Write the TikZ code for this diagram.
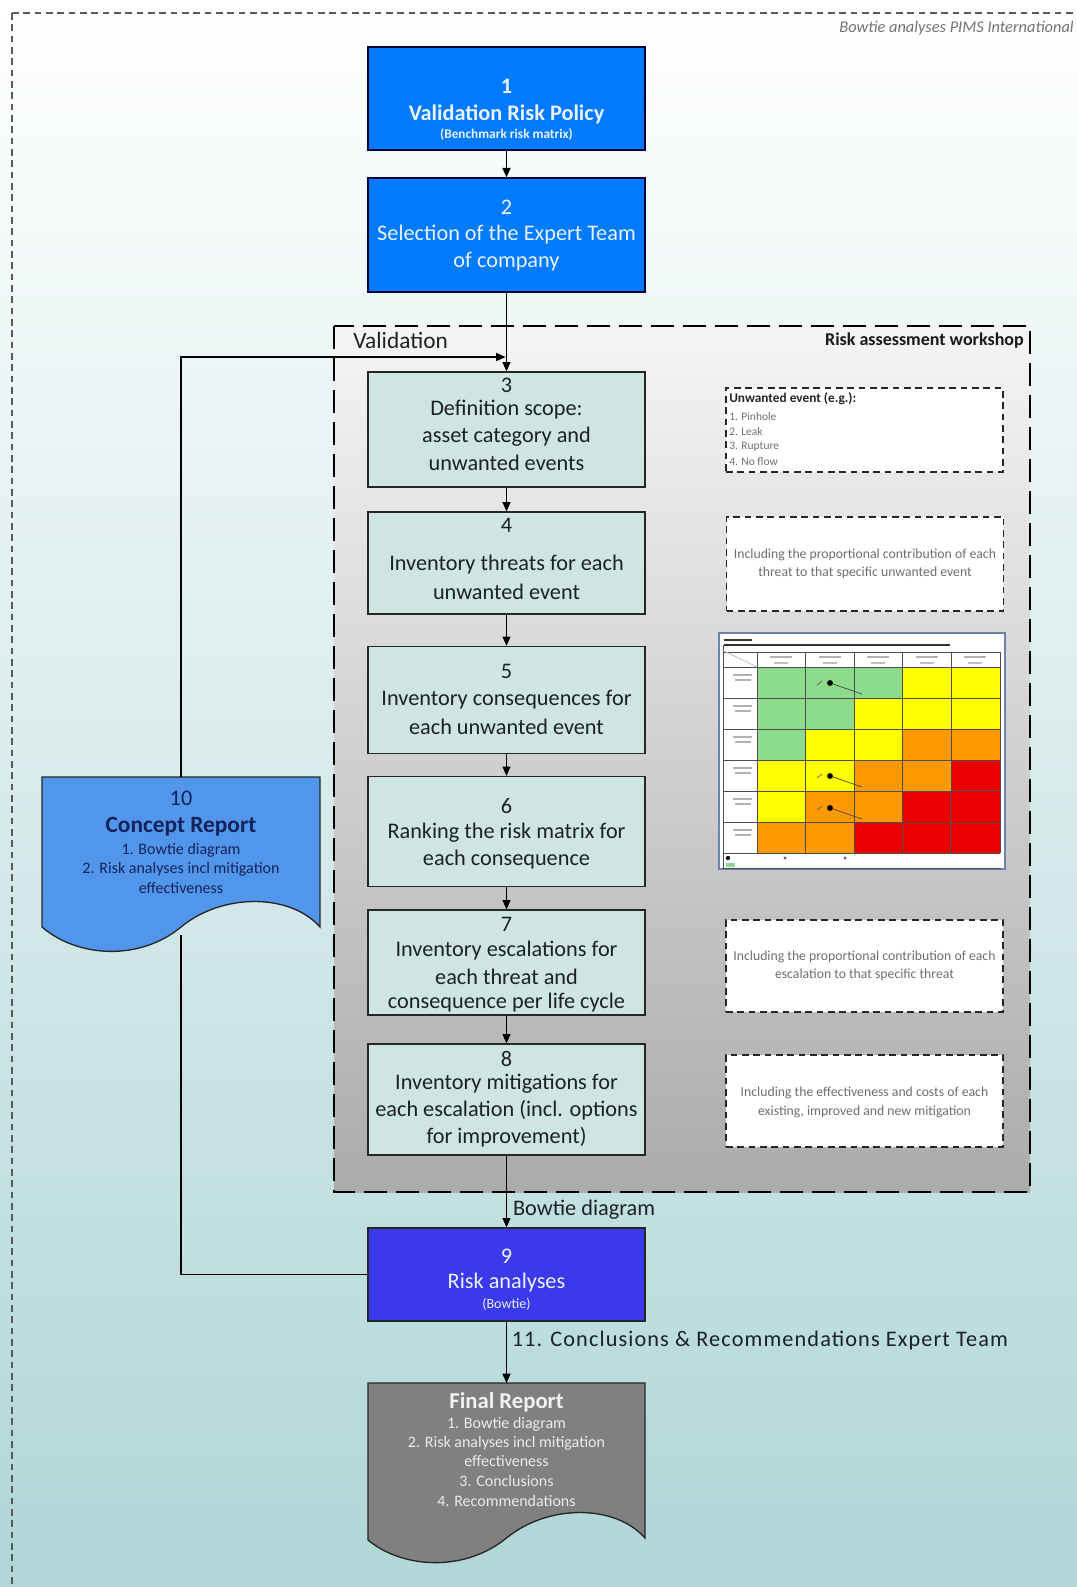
\documentclass[tikz,border=0pt]{standalone}
\usepackage{fontspec}
\setmainfont{Carlito}
\newfontfamily\calwide[LetterSpace=5]{Carlito}
\usetikzlibrary{arrows.meta}
\definecolor{bgteal}{RGB}{176,214,215}
\definecolor{bluebox}{RGB}{0,122,255}
\definecolor{bluetext}{RGB}{236,242,255}
\definecolor{tealbox}{RGB}{206,229,226}
\definecolor{violetbox}{RGB}{58,58,236}
\definecolor{conceptbox}{RGB}{82,150,236}
\definecolor{concepttext}{RGB}{20,35,90}
\definecolor{finalbox}{RGB}{128,128,128}
\definecolor{darktext}{RGB}{28,34,36}
\definecolor{sidetext}{RGB}{110,110,110}
\definecolor{rmG}{RGB}{140,220,140}
\definecolor{rmY}{RGB}{255,255,0}
\definecolor{rmO}{RGB}{255,153,0}
\definecolor{rmR}{RGB}{235,0,0}
\definecolor{rmframe}{RGB}{110,130,170}
\tikzset{
  boxbase/.style={rectangle, draw=black!85, line width=1pt, minimum width=207.75pt, inner sep=0pt},
  bluestep/.style={boxbase, fill=bluebox, draw=black!80!blue},
  tealstep/.style={boxbase, fill=tealbox},
  violetstep/.style={boxbase, fill=violetbox},
  sidebox/.style={rectangle, draw=black!85, fill=white, line width=1.1pt, dash pattern=on 5pt off 3.5pt, minimum width=207.75pt, inner sep=0pt},
  maintxt/.style={inner sep=0pt, font=\fontsize{16.7}{20}\selectfont},
  boldtxt/.style={inner sep=0pt, font=\fontsize{16.7}{20}\bfseries},
  smalltxt/.style={inner sep=0pt, font=\fontsize{12}{14}\selectfont},
  sidetxt/.style={inner sep=0pt, text=sidetext, font=\fontsize{10.3}{12}\selectfont},
  arr/.style={-{Triangle[length=7pt,width=6pt]}, line width=0.9pt, black},
  plain/.style={line width=0.9pt, black},
}
\begin{document}
\begin{tikzpicture}[x=0.75pt,y=-0.75pt]
\useasboundingbox (0,0) rectangle (1077,1587);
% background
\shade[top color=white, bottom color=bgteal] (0,0) rectangle (1077,1587);
\draw[dash pattern=on 5pt off 3.5pt, line width=1.3pt, black!65] (12,13) rectangle (1100,1620);
\node[anchor=east, inner sep=0pt, text=black!55, font=\fontsize{12.3}{14}\itshape] (hdr) at (1074,28) {Bowtie analyses PIMS International};

% validation region
\shade[top color=white!96!black, bottom color=black!33] (334,326) rectangle (1030,1192);
\draw[dash pattern=on 17pt off 7pt, line width=1pt, black] (334,326) rectangle (1030,1192);
\node[anchor=west, inner sep=0pt, text=darktext, font=\fontsize{17.5}{20}\selectfont] (valtxt) at (353,340) {Validation};
\node[anchor=east, inner sep=0pt, text=black!90, font=\fontsize{13.5}{15}\bfseries] (rawtxt) at (1024,341) {Risk assessment workshop};

% main boxes
\node[bluestep, minimum height=77.25pt] (b1) at (506.5,98.5) {};
\node[bluestep, minimum height=85.5pt] (b2) at (506.5,235) {};
\node[tealstep, minimum height=86.25pt] (b3) at (506.5,429.5) {};
\node[tealstep, minimum height=76.5pt] (b4) at (506.5,563) {};
\node[tealstep, minimum height=80.25pt] (b5) at (506.5,700) {};
\node[tealstep, minimum height=82.5pt] (b6) at (506.5,831.5) {};
\node[tealstep, minimum height=78.75pt] (b7) at (506.5,962.5) {};
\node[tealstep, minimum height=83.25pt] (b8) at (506.5,1099.5) {};
\node[violetstep, minimum height=69.75pt] (b9) at (506.5,1274.5) {};

% box texts
\node[boldtxt, text=bluetext] (t1a) at (506.5,86) {1};
\node[boldtxt, text=bluetext] (t1b) at (506.5,114) {Validation Risk Policy};
\node[inner sep=0pt, text=bluetext, font=\fontsize{10}{12}\bfseries] (t1c) at (506.5,135) {(Benchmark risk matrix)};
\node[maintxt, text=bluetext] (t2a) at (506.5,207) {2};
\node[maintxt, text=bluetext] (t2b) at (506.5,235) {Selection of the Expert Team};
\node[maintxt, text=bluetext] (t2c) at (506.5,262) {of company};
\node[maintxt, text=darktext] (t3a) at (506.5,385) {3};
\node[maintxt, text=darktext] (t3b) at (506.5,410) {Definition scope:};
\node[maintxt, text=darktext] (t3c) at (506.5,437) {asset category and};
\node[maintxt, text=darktext] (t3d) at (506.5,463) {unwanted events};
\node[maintxt, text=darktext] (t4a) at (506.5,525) {4};
\node[maintxt, text=darktext] (t4b) at (506.5,565) {Inventory threats for each};
\node[maintxt, text=darktext] (t4c) at (506.5,592) {unwanted event};
\node[maintxt, text=darktext] (t5a) at (506.5,671) {5};
\node[maintxt, text=darktext] (t5b) at (506.5,700) {Inventory consequences for};
\node[maintxt, text=darktext] (t5c) at (506.5,727) {each unwanted event};
\node[maintxt, text=darktext] (t6a) at (506.5,806) {6};
\node[maintxt, text=darktext] (t6b) at (506.5,833) {Ranking the risk matrix for};
\node[maintxt, text=darktext] (t6c) at (506.5,860) {each consequence};
\node[maintxt, text=darktext] (t7a) at (506.5,924) {7};
\node[maintxt, text=darktext] (t7b) at (506.5,951) {Inventory escalations for};
\node[maintxt, text=darktext] (t7c) at (506.5,977) {each threat and};
\node[maintxt, text=darktext] (t7d) at (506.5,1003) {consequence per life cycle};
\node[maintxt, text=darktext] (t8a) at (506.5,1059) {8};
\node[maintxt, text=darktext] (t8b) at (506.5,1084) {Inventory mitigations for};
\node[maintxt, text=darktext] (t8c) at (506.5,1110) {each escalation (incl. options};
\node[maintxt, text=darktext] (t8d) at (506.5,1137) {for improvement)};
\node[maintxt, text=bluetext] (t9a) at (506.5,1256) {9};
\node[maintxt, text=bluetext] (t9b) at (506.5,1283) {Risk analyses};
\node[inner sep=0pt, text=bluetext, font=\fontsize{10.5}{12}\selectfont] (t9c) at (506.5,1304) {(Bowtie)};

% concept report (document shape)
\filldraw[fill=conceptbox, draw=black!85, line width=1pt]
  (42,777) -- (320,777) -- (320,927)
  .. controls (290,893) and (222,893) .. (181,927)
  .. controls (140,961) and (78,958) .. (42,927) -- cycle;
\coordinate (b10top) at (181,777);
\coordinate (b10bot) at (181,935);
\node[maintxt, text=concepttext] (t10a) at (181,798) {10};
\node[inner sep=0pt, text=concepttext, font=\fontsize{17.5}{20}\bfseries] (t10b) at (181,827) {Concept Report};
\node[smalltxt, text=concepttext] (t10c) at (181,850) {1. Bowtie diagram};
\node[smalltxt, text=concepttext] (t10d) at (181,869) {2. Risk analyses incl mitigation};
\node[smalltxt, text=concepttext] (t10e) at (181,888) {effectiveness};

% final report (document shape)
\filldraw[fill=finalbox, draw=black!85, line width=1pt]
  (368,1383) -- (645,1383) -- (645,1538)
  .. controls (615,1504) and (548,1504) .. (506.5,1538)
  .. controls (465,1572) and (403,1569) .. (368,1540) -- cycle;
\coordinate (frtop) at (506.5,1383);
\node[inner sep=0pt, text=white!95!black, font=\fontsize{17}{20}\bfseries] (tfa) at (506.5,1402) {Final Report};
\node[smalltxt, text=white!92!black] (tfb) at (506.5,1424) {1. Bowtie diagram};
\node[smalltxt, text=white!92!black] (tfc) at (506.5,1443) {2. Risk analyses incl mitigation};
\node[smalltxt, text=white!92!black] (tfd) at (506.5,1461) {effectiveness};
\node[smalltxt, text=white!92!black] (tfe) at (506.5,1481) {3. Conclusions};
\node[smalltxt, text=white!92!black] (tff) at (506.5,1501) {4. Recommendations};

% side boxes
\node[sidebox, minimum height=63pt] (s3) at (864.5,430) {};
\node[inner sep=0pt, anchor=west, text=black!85, font=\fontsize{10}{12}\bfseries] (s3a) at (729,399) {Unwanted event (e.g.):};
\node[inner sep=0pt, anchor=west, text=sidetext, font=\fontsize{8.6}{10}\selectfont] (s3b) at (729,417) {1. Pinhole};
\node[inner sep=0pt, anchor=west, text=sidetext, font=\fontsize{8.6}{10}\selectfont] (s3c) at (729,432) {2. Leak};
\node[inner sep=0pt, anchor=west, text=sidetext, font=\fontsize{8.6}{10}\selectfont] (s3d) at (729,447) {3. Rupture};
\node[inner sep=0pt, anchor=west, text=sidetext, font=\fontsize{8.6}{10}\selectfont] (s3e) at (729,462) {4. No flow};

\node[sidebox, minimum height=70.5pt] (s4) at (865,564) {};
\node[sidetxt] (s4a) at (865,555) {Including the proportional contribution of each};
\node[sidetxt] (s4b) at (865,573) {threat to that specific unwanted event};

\node[sidebox, minimum height=69pt] (s7) at (864.5,966) {};
\node[sidetxt] (s7a) at (864.5,957) {Including the proportional contribution of each};
\node[sidetxt] (s7b) at (864.5,975) {escalation to that specific threat};

\node[sidebox, minimum height=69pt] (s8) at (864.5,1101) {};
\node[sidetxt] (s8a) at (864.5,1093) {Including the effectiveness and costs of each};
\node[sidetxt] (s8b) at (864.5,1112) {existing, improved and new mitigation};

% risk matrix inset
\filldraw[fill=white, draw=rmframe, line width=1.5pt] (719,633) rectangle (1005,869);
\foreach \row/\cols in {0/{G,G,G,Y,Y},1/{G,G,Y,Y,Y},2/{G,Y,Y,O,O},3/{Y,Y,O,O,R},4/{Y,O,O,R,R},5/{O,O,R,R,R}}{
  \foreach \c [count=\j from 0] in \cols {
    \fill[rm\c] (757+\j*48.6,667+\row*31) rectangle ++(48.6,31);
  }
}
\foreach \j in {0,...,5} { \draw[black!70, line width=0.5pt] (757+\j*48.6,652) -- (757+\j*48.6,853); }
\foreach \r in {0,...,6} { \draw[black!70, line width=0.5pt] (723,667+\r*31) -- (1000,667+\r*31); }
\draw[black!70, line width=0.5pt] (723,652) -- (1001,652);
\draw[black!70, line width=0.5pt] (723,645) -- (723,868);
\draw[black!70, line width=0.5pt] (723,868) -- (1001,868);
\draw[black!80, line width=1.2pt] (724,640) -- (752,640);
\draw[black!80, line width=1.2pt] (724,645) -- (950,645);
\draw[black!25, line width=0.6pt] (722,650) -- (757,667);
\foreach \j in {0,...,4} {
  \draw[black!30, line width=0.8pt] (770+\j*48.6,657) -- (792+\j*48.6,657);
  \draw[black!25, line width=0.8pt] (774+\j*48.6,663) -- (788+\j*48.6,663);
}
\foreach \r in {0,...,5} {
  \draw[black!30, line width=0.8pt] (733,675+\r*31) -- (752,675+\r*31);
  \draw[black!30, line width=0.8pt] (735,680+\r*31) -- (751,680+\r*31);
}
\foreach \yy in {683,776,808} {
  \draw[black!75, line width=0.5pt] (830,\yy) -- (862,\yy+11);
  \fill[black] (830,\yy) circle (2.2pt);
  \draw[black!60, line width=0.6pt] (817,\yy+2) -- (822,\yy-2);
}
\fill[black] (728,858) circle (1.6pt);
\fill[black!60] (785,858) circle (1.3pt);
\fill[black!60] (845,858) circle (1.3pt);
\fill[rmG] (726,863) rectangle (735,867);

% connectors
\draw[arr] (b1.south) -- (b2.north);
\draw[arr] (b2.south) -- (b3.north);
\draw[arr] (b3.south) -- (b4.north);
\draw[arr] (b4.south) -- (b5.north);
\draw[arr] (b5.south) -- (b6.north);
\draw[arr] (b6.south) -- (b7.north);
\draw[arr] (b7.south) -- (b8.north);
\draw[arr] (b8.south) -- node[pos=0.75, anchor=west, inner sep=0pt, xshift=4.5pt, maintxt, text=darktext] (lblbow) {Bowtie diagram} (b9.north);
\draw[arr] (b9.south) -- node[pos=0.31, anchor=west, inner sep=0pt, xshift=3.5pt, text=darktext, font=\calwide\fontsize{16.7}{20}\selectfont] (lblcon) {11. Conclusions \& Recommendations Expert Team} (frtop);
\coordinate (loopend) at (505.5,357);
\draw[plain] (b9.west) -| (b10bot);
\draw[arr] (b10top) |- (loopend);
\end{tikzpicture}
\end{document}
